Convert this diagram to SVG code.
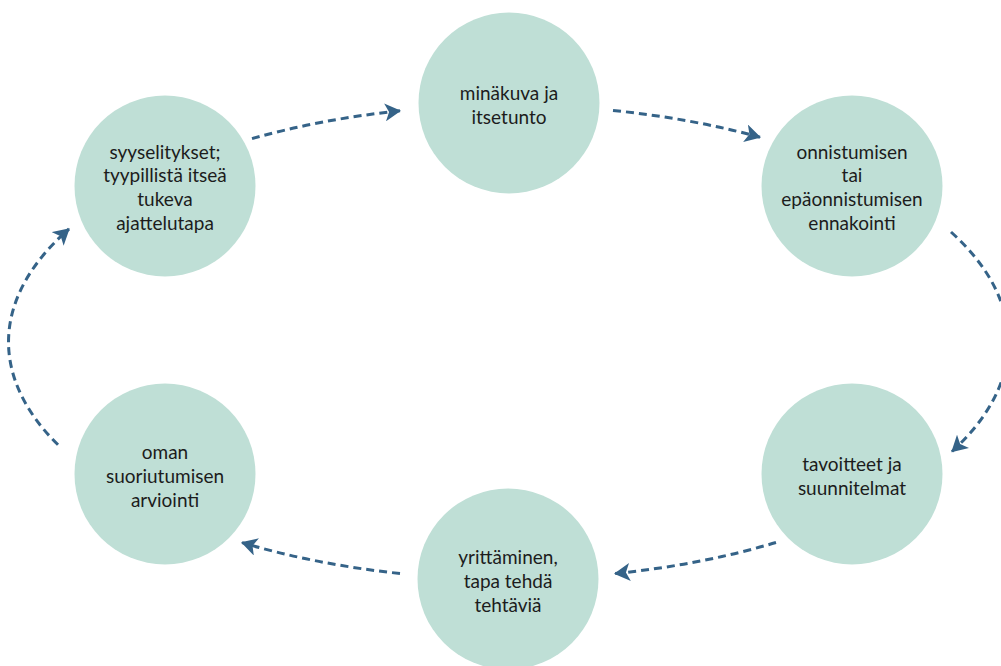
<svg xmlns="http://www.w3.org/2000/svg" width="1001" height="666" viewBox="0 0 1001 666">
<style>
.node{fill:#bfdfd6}
.lbl{font-family:Lato,"Open Sans",sans-serif;font-size:19px;fill:#1c1c1c;text-anchor:middle}
.con{fill:none;stroke:#356388;stroke-width:3;stroke-dasharray:8 5}
</style>
<defs>
<marker id="ah" markerUnits="userSpaceOnUse" markerWidth="18" markerHeight="18" refX="15" refY="9" orient="auto">
<path d="M0,0 L16,9 L0,18 L4,9 Z" fill="#356388"/>
</marker>
</defs>
<rect width="1001" height="666" fill="#fff"/>
<g id="connectors">
<path class="con" marker-end="url(#ah)" d="M252 138.6 A500 237 0 0 1 400 110.8"/>
<path class="con" marker-end="url(#ah)" d="M613 110.5 A500 237 0 0 1 760 137.2"/>
<path class="con" marker-end="url(#ah)" d="M951 232 A500 237 0 0 1 952 451.5"/>
<path class="con" marker-end="url(#ah)" d="M776 542.5 A500 237 0 0 1 615 573.6"/>
<path class="con" marker-end="url(#ah)" d="M400 573.5 A500 237 0 0 1 242 542.6"/>
<path class="con" marker-end="url(#ah)" d="M58 444.8 A500 237 0 0 1 69 229"/>
</g>
<g id="n1">
<circle class="node" cx="509" cy="103" r="90.5"/>
<text class="lbl" x="509" y="100">minäkuva ja</text>
<text class="lbl" x="509" y="124">itsetunto</text>
</g>
<g id="n2">
<circle class="node" cx="852" cy="186" r="90.5"/>
<text class="lbl" x="852" y="159">onnistumisen</text>
<text class="lbl" x="852" y="182">tai</text>
<text class="lbl" x="852" y="206">epäonnistumisen</text>
<text class="lbl" x="852" y="230">ennakointi</text>
</g>
<g id="n3">
<circle class="node" cx="852" cy="474" r="90.5"/>
<text class="lbl" x="852" y="471">tavoitteet ja</text>
<text class="lbl" x="852" y="495">suunnitelmat</text>
</g>
<g id="n4">
<circle class="node" cx="508" cy="579" r="90.5"/>
<text class="lbl" x="508" y="564">yrittäminen,</text>
<text class="lbl" x="508" y="588">tapa tehdä</text>
<text class="lbl" x="508" y="612">tehtäviä</text>
</g>
<g id="n5">
<circle class="node" cx="165" cy="474" r="90.5"/>
<text class="lbl" x="165" y="459">oman</text>
<text class="lbl" x="165" y="483">suoriutumisen</text>
<text class="lbl" x="165" y="507">arviointi</text>
</g>
<g id="n6">
<circle class="node" cx="165" cy="186" r="90.5"/>
<text class="lbl" x="165" y="159">syyselitykset;</text>
<text class="lbl" x="165" y="182">tyypillistä itseä</text>
<text class="lbl" x="165" y="206">tukeva</text>
<text class="lbl" x="165" y="230">ajattelutapa</text>
</g>
</svg>
